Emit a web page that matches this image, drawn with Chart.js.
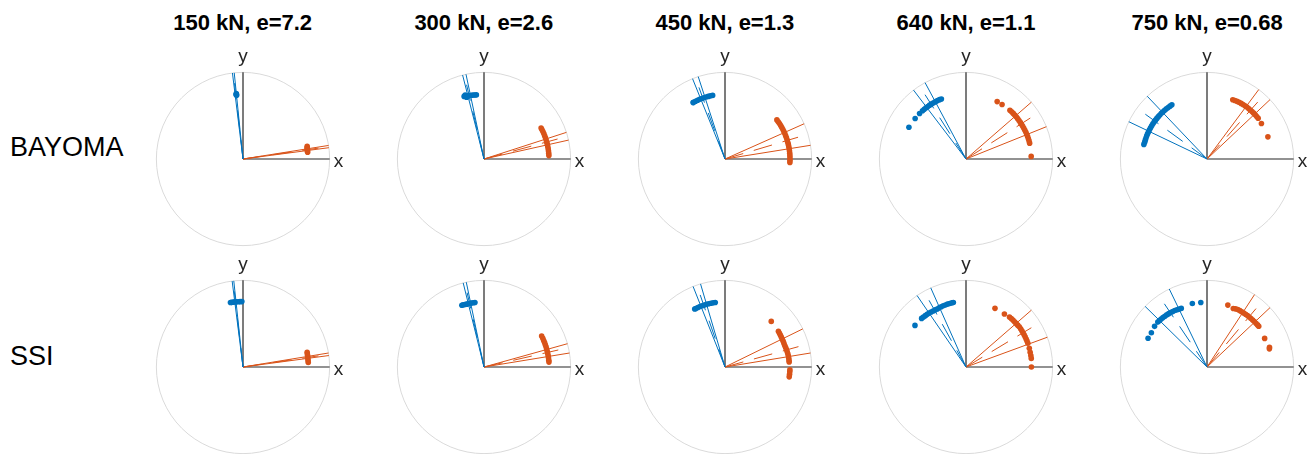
<!DOCTYPE html>
<html>
<head>
<meta charset="utf-8">
<script src="https://cdn.jsdelivr.net/npm/chart.js@4/dist/chart.umd.min.js"></script>
<style>
  body { margin: 0; background: #fff; }
  #page { position: relative; width: 1314px; height: 454px; overflow: hidden; font-family: "Liberation Sans", Arial, sans-serif; color: #000; }
  #page canvas { position: absolute; }
  .ttl { position: absolute; font-size: 22px; font-weight: bold; line-height: 1; white-space: nowrap; transform: translateX(-50%); }
  .row { position: absolute; font-size: 27px; line-height: 1; white-space: nowrap; }
</style>
</head>
<body>
<div id="page"></div>
<script>
const loadTitles = ['150 kN, e=7.2', '300 kN, e=2.6', '450 kN, e=1.3', '640 kN, e=1.1', '750 kN, e=0.68'];
const modelNames = ['BAYOMA', 'SSI'];

// direction lines, degrees from the x axis (solid pair + dashed mean)
const bayomaBlueDirs = [[95.8, 97.0], [102.0, 104.3], [108.0, 112.0], [118.2, 127.3], [133.6, 154.5]];
const bayomaBlueMean = [96.4, 103.2, 110.0, 122.5, 144.0];
const bayomaOrangeDirs = [[7.5, 9.0], [12.6, 17.9], [9.1, 24.0], [21.9, 41.0], [43.3, 53.3]];
const bayomaOrangeMean = [8.2, 15.2, 16.6, 32.5, 48.3];
const ssiBlueDirs = [[96.1, 97.2], [101.8, 103.9], [106.4, 111.6], [114.0, 124.4], [115.8, 135.6]];
const ssiBlueMean = [96.6, 102.8, 109.0, 119.0, 124.0];
const ssiOrangeDirs = [[7.6, 9.3], [9.3, 15.6], [9.3, 26.1], [20.1, 41.0], [43.3, 56.7]];
const ssiOrangeMean = [8.4, 12.9, 15.5, 31.0, 50.0];
const meanLength = 0.88;

// identified points as [angle deg, amplitude]
const bayomaBluePts = [
  [[95.7, 0.74], [95.8, 0.75], [95.9, 0.76], [96.1, 0.745]],
  [[96.8, 0.745], [98.2, 0.747], [99.6, 0.749], [101, 0.75], [102.4, 0.751], [103.8, 0.753], [105.2, 0.755], [106.6, 0.757], [107.6, 0.758], [106.4, 0.77], [105.8, 0.74]],
  [[101, 0.748], [103, 0.748], [105, 0.748], [107, 0.748], [109, 0.748], [111, 0.748], [113, 0.748], [115, 0.748], [117, 0.748], [119, 0.748], [119.5, 0.748]],
  [[150.9, 0.754], [141.5, 0.75], [135.6, 0.75], [132, 0.75], [130, 0.75], [128, 0.75], [126, 0.75], [124, 0.75], [122, 0.75], [120, 0.75], [118, 0.75], [116, 0.75], [114, 0.75], [112.3, 0.749]],
  [[123, 0.745], [125, 0.745], [127, 0.745], [129, 0.745], [131, 0.745], [133, 0.745], [135, 0.745], [137, 0.745], [139, 0.745], [141, 0.745], [143, 0.745], [145, 0.745], [147, 0.745], [149, 0.745], [151, 0.745], [153, 0.745], [155, 0.745], [157, 0.745], [159, 0.745], [161, 0.745], [163, 0.745], [165, 0.745], [167, 0.748]]
];
const bayomaOrangePts = [
  [[6.0, 0.75], [7.0, 0.75], [8.0, 0.75], [9.0, 0.75], [10.0, 0.752], [11.2, 0.755]],
  [[3, 0.75], [5, 0.75], [7, 0.75], [9, 0.75], [11, 0.75], [13, 0.75], [15, 0.75], [17, 0.75], [19, 0.75], [21, 0.75], [23, 0.75], [25, 0.75], [27, 0.75], [28.5, 0.75]],
  [[-3, 0.75], [-1, 0.75], [1, 0.75], [3, 0.75], [5, 0.75], [7, 0.75], [9, 0.75], [11, 0.75], [13, 0.75], [15, 0.75], [17, 0.75], [19, 0.75], [21, 0.75], [23, 0.75], [25, 0.75], [27, 0.75], [29, 0.75], [31, 0.75], [33, 0.75], [35, 0.75], [37, 0.75]],
  [[61.5, 0.754], [56.5, 0.754], [48, 0.758], [46, 0.758], [44, 0.758], [42, 0.757], [40, 0.757], [38, 0.757], [36, 0.756], [34, 0.756], [32, 0.756], [30, 0.756], [28, 0.756], [26, 0.756], [24, 0.757], [22, 0.757], [20, 0.757], [18, 0.757], [16, 0.757], [14, 0.757], [2.3, 0.753]],
  [[66.5, 0.746], [64.5, 0.748], [62.5, 0.75], [60.5, 0.752], [58.5, 0.753], [56.5, 0.754], [54.5, 0.755], [52.5, 0.755], [50.5, 0.755], [48.5, 0.755], [46.5, 0.755], [44.5, 0.755], [42.5, 0.755], [40.5, 0.755], [38.5, 0.755], [33.1, 0.75], [20, 0.748]]
];
const ssiBluePts = [
  [[91, 0.755], [92.5, 0.755], [94, 0.755], [95.5, 0.756], [97, 0.757], [98.5, 0.757], [100, 0.758], [101, 0.758]],
  [[98, 0.752], [99.5, 0.752], [101, 0.752], [102.5, 0.752], [104, 0.752], [105.5, 0.753], [107, 0.755], [108.5, 0.757], [109.7, 0.758]],
  [[98.6, 0.753], [100.5, 0.753], [102.5, 0.753], [104.5, 0.754], [106.5, 0.754], [108.5, 0.754], [110.5, 0.754], [112.5, 0.755], [114.5, 0.755], [116.5, 0.755], [117.6, 0.755]],
  [[140.8, 0.76], [132.4, 0.76], [130.4, 0.758], [128.4, 0.756], [126.4, 0.755], [124.4, 0.754], [122.4, 0.752], [120.4, 0.75], [118.4, 0.749], [116.4, 0.748], [114.4, 0.75], [112.4, 0.752], [110.4, 0.754], [108.4, 0.755], [106.4, 0.756], [104.4, 0.757], [102.4, 0.758], [101.1, 0.758]],
  [[95.5, 0.748], [103, 0.752], [113.7, 0.739], [115.7, 0.742], [117.7, 0.746], [119.7, 0.75], [121.7, 0.753], [123.7, 0.756], [125.7, 0.758], [127.7, 0.76], [129.7, 0.762], [131.7, 0.764], [133.7, 0.766], [135.7, 0.768], [137.6, 0.769], [142.2, 0.766], [148.4, 0.754], [154, 0.757]]
];
const ssiOrangePts = [
  [[4, 0.755], [5.5, 0.755], [7, 0.755], [8.5, 0.756], [10, 0.757], [11.5, 0.758], [13, 0.76]],
  [[4.3, 0.752], [6, 0.752], [8, 0.752], [10, 0.752], [12, 0.752], [14, 0.752], [16, 0.752], [18, 0.753], [20, 0.753], [22, 0.754], [24, 0.754], [26, 0.755], [28.2, 0.755]],
  [[44.6, 0.75], [33.8, 0.742], [31.8, 0.74], [29.8, 0.738], [27.8, 0.736], [25.8, 0.735], [23.8, 0.734], [21.8, 0.733], [19.8, 0.733], [17.8, 0.735], [15.8, 0.737], [13.8, 0.739], [11.8, 0.741], [9.8, 0.742], [7.8, 0.743], [5.8, 0.743], [4.4, 0.743], [-2.5, 0.75], [-4.3, 0.75], [-6.5, 0.75], [-8.7, 0.75]],
  [[63.7, 0.755], [54.1, 0.756], [49, 0.765], [47, 0.766], [45, 0.766], [43, 0.766], [41, 0.767], [39, 0.768], [37, 0.77], [35, 0.77], [33, 0.769], [31, 0.768], [29, 0.767], [27, 0.766], [25, 0.766], [23, 0.765], [21, 0.765], [16.5, 0.762], [13, 0.76], [10, 0.76], [7.5, 0.76], [0, 0.755]],
  [[71.4, 0.754], [65.8, 0.74], [63.8, 0.748], [61.8, 0.752], [59.8, 0.753], [57.8, 0.753], [55.8, 0.754], [53.8, 0.754], [51.8, 0.755], [49.8, 0.755], [47.8, 0.755], [45.8, 0.756], [43.8, 0.757], [41.8, 0.758], [39.8, 0.759], [38.2, 0.76], [26.4, 0.743], [17.4, 0.756], [16.2, 0.75]]
];

const BLUE = '#0072BD';
const ORANGE = '#D95319';
const CIRCLE_R = 88.7;   // unit circle in pixels
const BOX = 240;         // canvas size per panel
const colX = [242.7, 483.8, 724.9, 966.0, 1207.1];
const rowY = [158.5, 366.7];

function rad(d) { return d * Math.PI / 180; }

function toXY(pts) {
  return pts.map(p => ({ x: p[1] * Math.cos(rad(p[0])), y: p[1] * Math.sin(rad(p[0])) }));
}

function ray(deg, len) {
  return [{ x: 0, y: 0 }, { x: len * Math.cos(rad(deg)), y: len * Math.sin(rad(deg)) }];
}

function lineSet(deg, len, color, dashed) {
  return {
    data: ray(deg, len), showLine: true, borderColor: color, borderWidth: 1,
    borderDash: dashed ? [19, 11] : [], pointRadius: 0, fill: false
  };
}

function pointSet(pts, color) {
  return {
    data: toXY(pts), showLine: false, backgroundColor: color, borderWidth: 0,
    pointRadius: 2.8, pointHoverRadius: 2.8
  };
}

// unit circle, x/y axes and their labels
const polarFrame = {
  id: 'polarFrame',
  beforeDatasetsDraw(chart) {
    const ctx = chart.ctx, sx = chart.scales.x, sy = chart.scales.y;
    const ox = sx.getPixelForValue(0), oy = sy.getPixelForValue(0);
    const r = sx.getPixelForValue(1) - ox;
    ctx.save();
    ctx.strokeStyle = '#dadada';
    ctx.lineWidth = 1;
    ctx.beginPath();
    ctx.arc(ox, oy, r, 0, 2 * Math.PI);
    ctx.stroke();
    ctx.strokeStyle = '#262626';
    ctx.lineWidth = 1.2;
    ctx.beginPath();
    ctx.moveTo(ox, oy); ctx.lineTo(sx.getPixelForValue(1), oy);
    ctx.moveTo(ox, oy); ctx.lineTo(ox, sy.getPixelForValue(1));
    ctx.stroke();
    ctx.restore();
  },
  afterDraw(chart) {
    const ctx = chart.ctx, sx = chart.scales.x, sy = chart.scales.y;
    ctx.save();
    ctx.fillStyle = '#262626';
    ctx.font = '19px "Liberation Sans", Arial, sans-serif';
    ctx.textBaseline = 'alphabetic';
    ctx.textAlign = 'left';
    ctx.fillText('x', sx.getPixelForValue(1) + 4, sy.getPixelForValue(0) + 8);
    ctx.textAlign = 'center';
    ctx.fillText('y', sx.getPixelForValue(0), sy.getPixelForValue(1) - 10.5);
    ctx.restore();
  }
};

function makePanel(cx, cy, bluePts, orangePts, blueDirs, blueMean, orangeDirs, orangeMean) {
  const canvas = document.createElement('canvas');
  canvas.width = BOX;
  canvas.height = BOX;
  canvas.style.left = (cx - BOX / 2) + 'px';
  canvas.style.top = (cy - BOX / 2) + 'px';
  document.getElementById('page').appendChild(canvas);

  // first dataset is drawn on top
  const datasets = [
    pointSet(bluePts, BLUE),
    pointSet(orangePts, ORANGE),
    lineSet(blueDirs[0], 1, BLUE, false),
    lineSet(blueDirs[1], 1, BLUE, false),
    lineSet(blueMean, meanLength, BLUE, true),
    lineSet(orangeDirs[0], 1, ORANGE, false),
    lineSet(orangeDirs[1], 1, ORANGE, false),
    lineSet(orangeMean, meanLength, ORANGE, true)
  ];

  const half = (BOX / 2) / CIRCLE_R;
  new Chart(canvas.getContext('2d'), {
    type: 'scatter',
    data: { datasets: datasets },
    options: {
      responsive: false,
      animation: false,
      events: [],
      layout: { padding: 0 },
      plugins: { legend: { display: false }, tooltip: { enabled: false } },
      scales: {
        x: { type: 'linear', min: -half, max: half, display: false },
        y: { type: 'linear', min: -half, max: half, display: false }
      }
    },
    plugins: [polarFrame]
  });
}

const page = document.getElementById('page');

loadTitles.forEach((t, i) => {
  const d = document.createElement('div');
  d.className = 'ttl';
  d.textContent = t;
  d.style.left = colX[i] + 'px';
  d.style.top = '11.5px';
  page.appendChild(d);
});

const rowTops = [134, 343];
modelNames.forEach((m, j) => {
  const d = document.createElement('div');
  d.className = 'row';
  d.textContent = m;
  d.style.left = '10px';
  d.style.top = rowTops[j] + 'px';
  page.appendChild(d);
});

for (var i = 0; i < 5; i++) {
  makePanel(colX[i], rowY[0], bayomaBluePts[i], bayomaOrangePts[i],
    bayomaBlueDirs[i], bayomaBlueMean[i], bayomaOrangeDirs[i], bayomaOrangeMean[i]);
  makePanel(colX[i], rowY[1], ssiBluePts[i], ssiOrangePts[i],
    ssiBlueDirs[i], ssiBlueMean[i], ssiOrangeDirs[i], ssiOrangeMean[i]);
}
</script>
</body>
</html>
